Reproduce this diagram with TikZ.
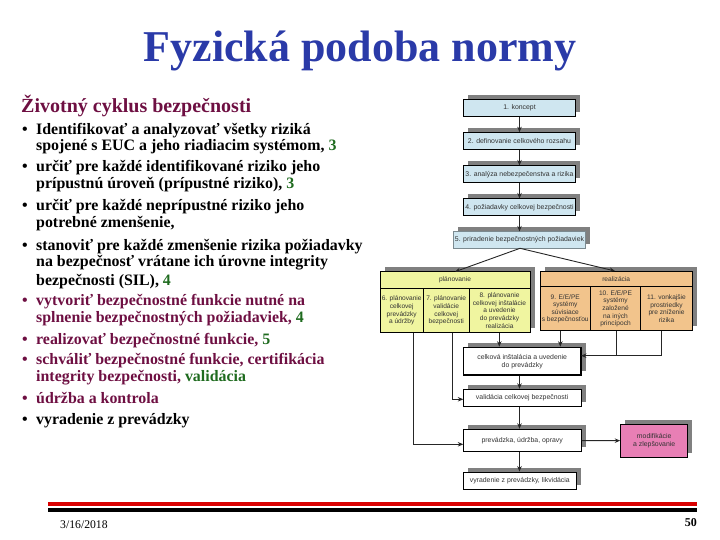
\documentclass[tikz,border=0pt]{standalone}
\usepackage{fontspec}
\setmainfont{Liberation Serif}
\newfontfamily\diagfont{Liberation Sans}
\usetikzlibrary{arrows.meta,shadows}
\definecolor{titleblue}{HTML}{2A3AA8}
\definecolor{maroon}{HTML}{6E0F42}
\definecolor{dgreen}{HTML}{1F6B1F}
\definecolor{cblue}{HTML}{CFE6F0}
\definecolor{cyellow}{HTML}{F0F5A0}
\definecolor{corange}{HTML}{F2C48C}
\definecolor{cpink}{HTML}{E87FB5}
\definecolor{cshadow}{HTML}{808080}
\definecolor{dtext}{HTML}{333333}
\tikzset{
  x=1pt,y=-1pt,
  titletext/.style={anchor=base,inner sep=0,text=titleblue,font=\fontsize{44}{44}\selectfont\bfseries},
  headtext/.style={anchor=base west,inner sep=0,text=maroon,font=\fontsize{20}{20}\selectfont\bfseries},
  bodyline/.style={anchor=base west,inner sep=0,font=\fontsize{15.9}{15.9}\selectfont\bfseries},
  foot/.style={inner sep=0,font=\fontsize{11.7}{11.7}\selectfont},
  box/.style={draw=black,line width=1pt,inner sep=0,align=center,text=dtext,
    font=\diagfont\fontsize{6.9}{8}\selectfont},
  sbox/.style={box,fill=white,drop shadow={shadow xshift=4.5pt,shadow yshift=4.5pt,fill=cshadow,opacity=1}},
  cell/.style={box,line width=.8pt,font=\diagfont\fontsize{6.6}{7.6}\selectfont},
  conn/.style={draw=black!85,line width=.9pt},
  arr/.style={conn,-{Stealth[length=5.5pt,width=4.5pt]}},
}
\begin{document}
\begin{tikzpicture}
\useasboundingbox (0,0) rectangle (720,540);
% title
\node[titletext] (title) at (360,62) {Fyzická podoba normy};
\node[headtext] (head) at (21,113) {Životný cyklus bezpečnosti};
% bullets
\foreach \nm/\yy/\cc in {a/135/black,b/171.7/black,c/210.7/black,d/250/black,e/305.7/maroon,f/344/maroon,g/364.3/maroon,h/403/maroon,i/424.3/black}
  \node[bodyline,text=\cc] (bul\nm) at (22,\yy) {•};
\node[bodyline] (l1) at (36,135) {Identifikovať a analyzovať všetky riziká};
\node[bodyline] (l2) at (36,150.7) {spojené s EUC a jeho riadiacim systémom, \textcolor{dgreen}{3}};
\node[bodyline] (l3) at (36,171.7) {určiť pre každé identifikované riziko jeho};
\node[bodyline] (l4) at (36,189) {prípustnú úroveň (prípustné riziko), \textcolor{dgreen}{3}};
\node[bodyline] (l5) at (36,210.7) {určiť pre každé neprípustné riziko jeho};
\node[bodyline] (l6) at (36,227.7) {potrebné zmenšenie,};
\node[bodyline] (l7) at (36,250) {stanoviť pre každé zmenšenie rizika požiadavky};
\node[bodyline] (l8) at (36,266.7) {na bezpečnosť vrátane ich úrovne integrity};
\node[bodyline] (l9) at (36,285) {bezpečnosti (SIL), \textcolor{dgreen}{4}};
\node[bodyline,text=maroon] (l10) at (36,305.7) {vytvoriť bezpečnostné funkcie nutné na};
\node[bodyline,text=maroon] (l11) at (36,322.7) {splnenie bezpečnostných požiadaviek, \textcolor{dgreen}{4}};
\node[bodyline,text=maroon] (l12) at (36,344) {realizovať bezpečnostné funkcie, \textcolor{dgreen}{5}};
\node[bodyline,text=maroon] (l13) at (36,364.3) {schváliť bezpečnostné funkcie, certifikácia};
\node[bodyline,text=maroon] (l14) at (36,381.7) {integrity bezpečnosti, \textcolor{dgreen}{validácia}};
\node[bodyline,text=maroon] (l15) at (36,403) {údržba a kontrola};
\node[bodyline] (l16) at (36,424.3) {vyradenie z prevádzky};
% diagram: top chain
\node[sbox,fill=cblue,minimum width=112.4pt,minimum height=16.7pt] (b1) at (519.5,107.7) {1. koncept};
\node[sbox,fill=cblue,minimum width=112.4pt,minimum height=16.7pt] (b2) at (519.5,141) {2. definovanie celkového rozsahu};
\node[sbox,fill=cblue,minimum width=112.4pt,minimum height=16.7pt] (b3) at (519.5,174.3) {3. analýza nebezpečenstva a rizika};
\node[sbox,fill=cblue,minimum width=112.4pt,minimum height=16.7pt] (b4) at (519.5,207.3) {4. požiadavky celkovej bezpečnosti};
\node[sbox,fill=cblue,draw=cblue!60!black,line width=.5pt,minimum width=132.4pt,minimum height=16.7pt] (b5) at (519.5,240) {5. priradenie bezpečnostných požiadaviek};
% planning group
\node[sbox,fill=cyellow,minimum width=150pt,minimum height=61pt] (plan) at (455,302.2) {};
\node[cell,fill=cyellow,minimum width=150pt,minimum height=16.6pt] (planh) at (455,280) {plánovanie};
\node[cell,fill=cyellow,minimum width=43.3pt,minimum height=44.4pt] (c6) at (401.7,310.5) {6. plánovanie\\celkovej\\prevádzky\\a údržby};
\node[cell,fill=cyellow,minimum width=45.7pt,minimum height=44.4pt] (c7) at (446.2,310.5) {7. plánovanie\\validácie\\celkovej\\bezpečnosti};
\node[cell,fill=cyellow,minimum width=61pt,minimum height=44.4pt] (c8) at (499.5,310.5) {8. plánovanie\\celkovej inštalácie\\a uvedenie\\do prevádzky\\realizácia};
% realization group
\node[sbox,fill=corange,minimum width=152.3pt,minimum height=59.7pt] (real) at (616.2,300.9) {};
\node[cell,fill=corange,minimum width=152.3pt,minimum height=15.7pt] (realh) at (616.2,278.9) {realizácia};
\node[cell,fill=corange,minimum width=50.3pt,minimum height=44pt] (c9) at (565.2,308.7) {9. E/E/PE\\systémy\\súvisiace\\s bezpečnosťou};
\node[cell,fill=corange,minimum width=50.4pt,minimum height=44pt] (c10) at (615.5,308.7) {10. E/E/PE\\systémy\\založené\\na iných\\princípoch};
\node[cell,fill=corange,minimum width=51.6pt,minimum height=44pt] (c11) at (666.5,308.7) {11. vonkajšie\\prostriedky\\pre zníženie\\rizika};
% lower chain
\node[sbox,line width=1.3pt,minimum width=117.7pt,minimum height=27.7pt] (inst) at (522.2,361.2) {celková inštalácia a uvedenie\\do prevádzky};
\node[sbox,minimum width=117.7pt,minimum height=17pt] (vali) at (522.2,397.8) {validácia celkovej bezpečnosti};
\node[sbox,minimum width=117.7pt,minimum height=22.4pt] (prev) at (522.2,440.5) {prevádzka, údržba, opravy};
\node[sbox,minimum width=113pt,minimum height=17.3pt] (vyra) at (519.8,480.7) {vyradenie z prevádzky, likvidácia};
\node[sbox,fill=cpink,minimum width=67pt,minimum height=33.3pt] (modi) at (654.2,440.7) {modifikácie\\a zlepšovanie};
% connector helper points
\coordinate (x6) at (413.3,0);
\coordinate (x7) at (452.3,0);
\coordinate (x8) at (499.3,0);
\coordinate (x9) at (560.3,0);
\coordinate (x10) at (616,0);
\coordinate (x11) at (661.7,0);
\coordinate (planin) at (455,271.7);
\coordinate (realin) at (615,271);
\coordinate (b5out) at (520,248.3);
\coordinate (instin) at (581,355.7);
\coordinate (prevv) at (463.3,444.3);
\coordinate (vali6) at (463.3,399.3);
% connectors
\draw[arr] (b1) -- (b2);
\draw[arr] (b2) -- (b3);
\draw[arr] (b3) -- (b4);
\draw[arr] (b4) -- (b5);
\draw[arr] (b5out) -- (planin);
\draw[arr] (b5out) -- (realin);
\draw[arr] (c6.south -| x6) |- (prevv);
\draw[arr] (c7.south -| x7) |- (vali6);
\draw[arr] (c8.south -| x8) -- (inst.north -| x8);
\draw[arr] (c9.south -| x9) -- (inst.north -| x9);
\draw[conn] (c10.south -| x10) -- (instin -| x10);
\draw[arr] (c11.south -| x11) |- (instin);
\draw[arr] (inst.south -| b1) -- (vali.north -| b1);
\draw[arr] (vali.south -| b1) -- (prev.north -| b1);
\draw[arr] (prev.south -| b1) -- (vyra.north -| b1);
\draw[arr] (prev) -- (modi);
% footer
\fill[red!85!black] (48,502) rectangle (697,506);
\fill[black] (48,508) rectangle (697,512);
\node[foot,anchor=base west] (date) at (60,528) {3/16/2018};
\node[foot,anchor=base east,font=\fontsize{12}{12}\selectfont\bfseries] (page) at (697,526) {50};
\end{tikzpicture}
\end{document}
